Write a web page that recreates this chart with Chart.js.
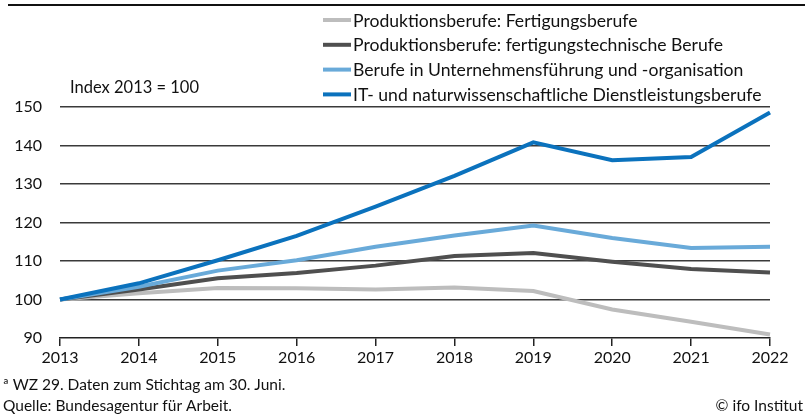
<!DOCTYPE html>
<html>
<head>
<meta charset="utf-8">
<script src="https://cdn.jsdelivr.net/npm/chart.js@4"></script>
<style>
  html, body { margin: 0; padding: 0; background: #fff; }
  #wrap { width: 809px; height: 416px; position: relative; }
</style>
</head>
<body>
<div id="wrap"><canvas id="chart" width="809" height="416"></canvas></div>
<script>
// Daten
const years = ["2013", "2014", "2015", "2016", "2017", "2018", "2019", "2020", "2021", "2022"];
const fertigung = [100, 101.6, 103.0, 102.9, 102.6, 103.1, 102.2, 97.4, 94.2, 90.9];
const fertigungstechnik = [100, 102.6, 105.5, 106.9, 108.8, 111.3, 112.1, 109.8, 107.9, 107.0];
const unternehmensfuehrung = [100, 103.3, 107.5, 110.2, 113.7, 116.6, 119.2, 116.0, 113.4, 113.7];
const itNatur = [100, 104.2, 110.2, 116.5, 124.1, 132.1, 140.8, 136.2, 137.0, 148.6];
const seriesLabels = [
  "Produktionsberufe: Fertigungsberufe",
  "Produktionsberufe: fertigungstechnische Berufe",
  "Berufe in Unternehmensführung und -organisation",
  "IT- und naturwissenschaftliche Dienstleistungsberufe"
];
const seriesColors = ["#bdbdbd", "#4f4f4f", "#69aad9", "#0b72bd"];
const yTicks = [90, 100, 110, 120, 130, 140, 150];

const FONT = "'Source Sans Pro', Lato, 'Liberation Sans Narrow', sans-serif";

// Legende, Beschriftungen und Fußnoten
const extras = {
  id: "extras",
  afterDraw(chart) {
    const c = chart.ctx;
    c.save();
    // Linie oben
    c.strokeStyle = "#111";
    c.lineWidth = 2;
    c.beginPath();
    c.moveTo(8, 5);
    c.lineTo(805, 5);
    c.stroke();

    // Legende
    c.font = "17.6px " + FONT;
    c.textBaseline = "middle";
    c.textAlign = "left";
    seriesLabels.forEach((lbl, i) => {
      const y = 20 + i * 24.8;
      c.strokeStyle = seriesColors[i];
      c.lineWidth = 4;
      c.beginPath();
      c.moveTo(323, y);
      c.lineTo(351, y);
      c.stroke();
      c.fillStyle = "#111";
      c.fillText(lbl, 353, y + 1);
    });

    // Einheit
    c.font = "16.5px " + FONT;
    c.fillText("Index 2013 = 100", 70, 88);

    // Fußnoten
    c.font = "15.5px " + FONT;
    c.fillText("ª WZ 29. Daten zum Stichtag am 30. Juni.", 3, 385);
    c.fillText("Quelle: Bundesagentur für Arbeit.", 3, 406);
    c.textAlign = "right";
    c.fillText("© ifo Institut", 803, 406);
    c.restore();
  }
};

const ctx = document.getElementById("chart").getContext("2d");
const data = [fertigung, fertigungstechnik, unternehmensfuehrung, itNatur];

new Chart(ctx, {
  type: "line",
  data: {
    labels: years,
    datasets: data.map((d, i) => ({
      label: seriesLabels[i],
      data: d,
      borderColor: seriesColors[i],
      backgroundColor: seriesColors[i],
      borderWidth: 4,
      pointRadius: 0,
      tension: 0,
      fill: false,
      order: 3 - i
    }))
  },
  options: {
    responsive: false,
    animation: false,
    events: [],
    layout: { padding: { left: 0, right: 39, top: 107, bottom: 0 } },
    plugins: { legend: { display: false }, tooltip: { enabled: false } },
    scales: {
      x: {
        offset: false,
        grid: {
          display: true,
          drawOnChartArea: false,
          drawTicks: true,
          tickLength: 8,
          color: "#222",
          lineWidth: 1.5
        },
        border: { display: true, color: "#222", width: 1.5 },
        ticks: {
          color: "#111",
          font: { family: FONT, size: 16 },
          padding: 2,
          maxRotation: 0
        },
        afterFit(scale) { scale.height = 78; }
      },
      y: {
        min: 90,
        max: 150,
        afterBuildTicks(scale) { scale.ticks = yTicks.map(v => ({ value: v })); },
        grid: {
          drawTicks: false,
          color: (c) => c.tick && c.tick.value === 90 ? "rgba(0,0,0,0)" : "#3a3a3a",
          lineWidth: 1.5
        },
        border: { display: false },
        ticks: {
          color: "#111",
          font: { family: FONT, size: 16 },
          padding: 18
        },
        afterFit(scale) { scale.width = 60; }
      }
    }
  },
  plugins: [extras]
});
</script>
</body>
</html>
